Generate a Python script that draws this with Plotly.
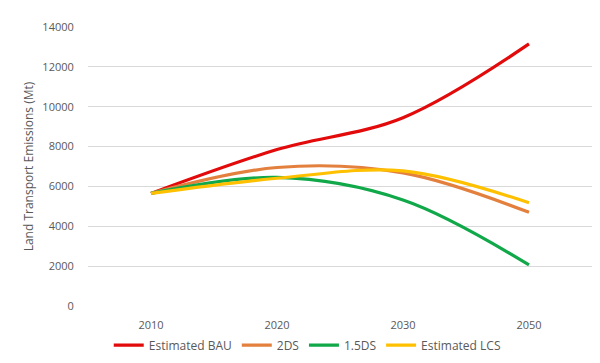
import plotly.graph_objects as go

years = ["2010", "2020", "2030", "2050"]
bau = [5650, 7850, 9450, 13150]
ds2 = [5650, 6950, 6680, 4700]
ds15 = [5650, 6450, 5320, 2060]
lcs = [5650, 6410, 6780, 5180]

series = [
    ("Estimated BAU", bau, "#E20A0A"),
    ("2DS", ds2, "#E3803E"),
    ("1.5DS", ds15, "#11A84A"),
    ("Estimated LCS", lcs, "#FFC000"),
]

fig = go.Figure()
for name, vals, col in series:
    fig.add_trace(go.Scatter(
        x=years, y=vals, name=name, mode="lines",
        line=dict(color=col, width=3.2, shape="spline", smoothing=1.0),
    ))

fig.update_layout(
    width=600, height=363,
    margin=dict(l=80, r=16, t=19, b=58),
    paper_bgcolor="white", plot_bgcolor="white",
    font=dict(family="Open Sans, Calibri, sans-serif", color="#595959", size=11),
    showlegend=True,
    legend=dict(
        orientation="h",
        x=0.435, xanchor="center", y=-0.14, yanchor="middle",
        font=dict(size=12, color="#595959"),
        itemwidth=30, traceorder="normal", borderwidth=0,
    ),
    xaxis=dict(
        type="category", range=[-0.5, 3.5], showgrid=False, zeroline=False, showline=False,
        ticks="outside", ticklen=9, tickcolor="rgba(0,0,0,0)",
        tickfont=dict(size=11, color="#595959"),
    ),
    yaxis=dict(
        range=[0, 14000], dtick=2000, tickformat="d", showgrid=True, gridcolor="#D9D9D9",
        gridwidth=1, zeroline=False, showline=False, automargin=False,
        ticks="outside", ticklen=11, tickcolor="rgba(0,0,0,0)",
        tickfont=dict(size=11, color="#595959"),
        title=dict(text="Land Transport Emissions (Mt)", font=dict(size=12, color="#595959"), standoff=6),
    ),
)

fig.write_html("out.html")
